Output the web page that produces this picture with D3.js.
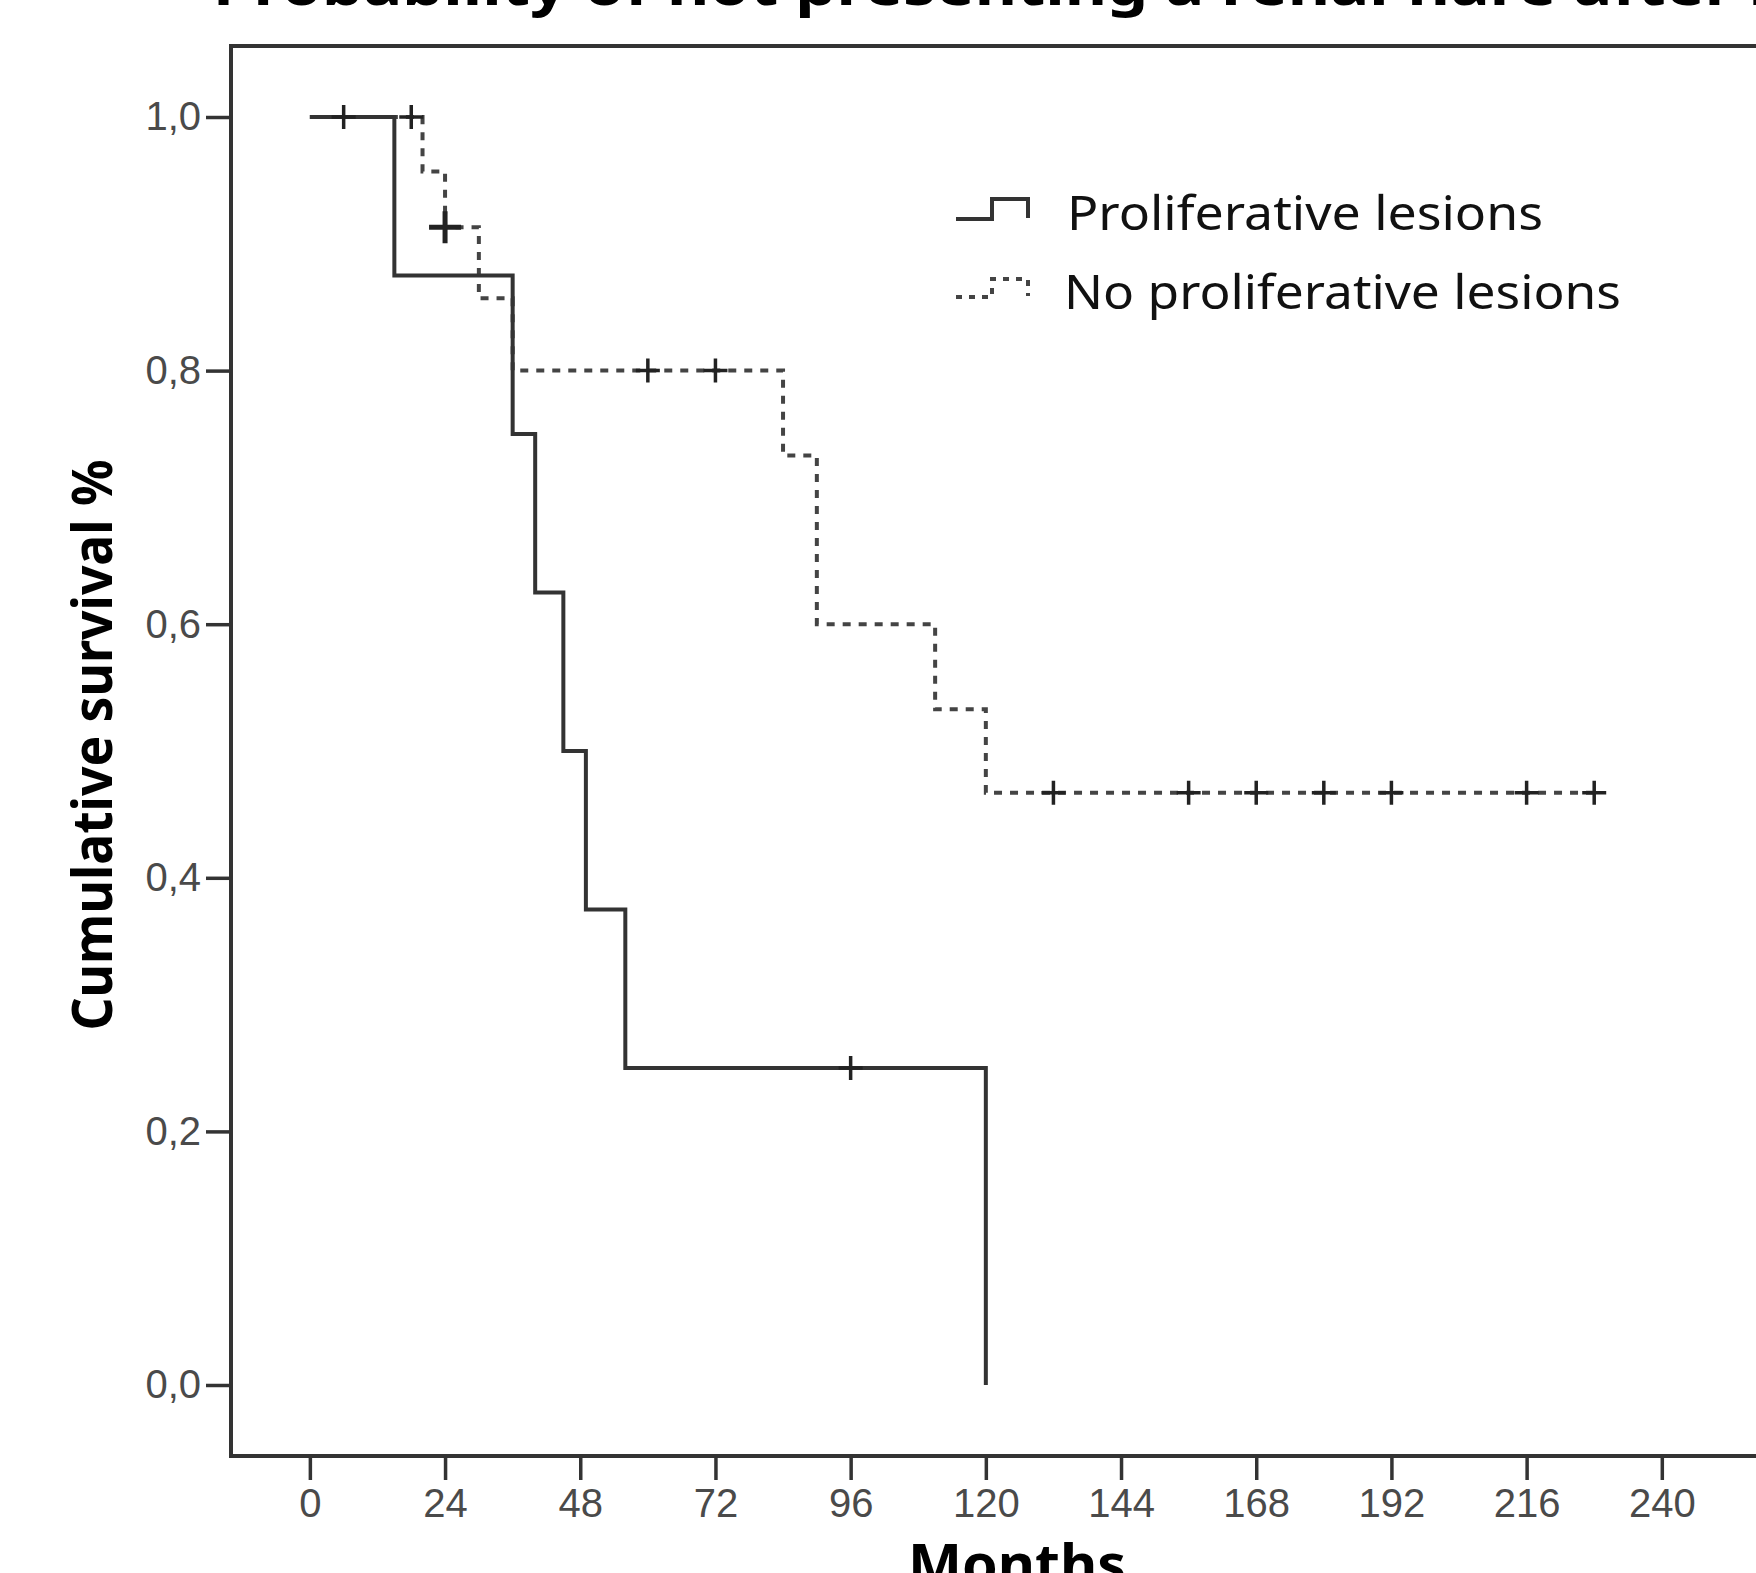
<!DOCTYPE html>
<html>
<head>
<meta charset="utf-8">
<script src="https://cdn.jsdelivr.net/npm/d3@7"></script>
<style>
  body { margin: 0; background: #fff; }
  svg { display: block; }
</style>
</head>
<body>
<script>
// tick values
const monthTicks = [0, 24, 48, 72, 96, 120, 144, 168, 192, 216, 240];
const survivalTicks = [0, 0.2, 0.4, 0.6, 0.8, 1.0];

// Proliferative lesions (solid)
const prolifTimes = [0, 15, 36, 40, 45, 49, 56, 120];
const prolifSurv  = [1, 0.875, 0.75, 0.625, 0.5, 0.375, 0.25, 0];
const prolifEnd = 120;
const prolifCensorT = [6, 96];
const prolifCensorS = [1, 0.25];

// No proliferative lesions (dotted)
const noProlifTimes = [0, 20, 24, 30, 36, 84, 90, 111, 120];
const noProlifSurv  = [1, 0.957, 0.913, 0.857, 0.8, 0.733, 0.6, 0.533, 0.467];
const noProlifEnd = 228;
const noProlifCensorT = [18, 24, 60, 72, 132, 156, 168, 180, 192, 216, 228];
const noProlifCensorS = [1, 0.913, 0.8, 0.8, 0.467, 0.467, 0.467, 0.467, 0.467, 0.467, 0.467];
const noProlifCensorN = [1, 2, 1, 1, 1, 1, 1, 1, 1, 1, 1];

const legendLabels = ["Proliferative lesions", "No proliferative lesions"];

const width = 1756, height = 1573;
const svg = d3.select("body").append("svg")
  .attr("width", width)
  .attr("height", height);

const x = d3.scaleLinear().domain([-14, 264]).range([231, 1797]);
const y = d3.scaleLinear().domain([-0.056, 1.056]).range([1456, 46]);

const lineColor = "#333";
const dotColor = "#444";

// frame
svg.append("rect")
  .attr("x", x(-14))
  .attr("y", y(1.056))
  .attr("width", x(264) - x(-14))
  .attr("height", y(-0.056) - y(1.056))
  .attr("fill", "none")
  .attr("stroke", "#333")
  .attr("stroke-width", 4);

// axes
const yAxis = svg.append("g")
  .attr("transform", `translate(${x(-14)},0)`)
  .call(d3.axisLeft(y).tickValues(survivalTicks).tickSize(25).tickPadding(5)
    .tickFormat(d => d3.format(".1f")(d).replace(".", ",")));
const xAxis = svg.append("g")
  .attr("transform", `translate(0,${y(-0.056)})`)
  .call(d3.axisBottom(x).tickValues(monthTicks).tickSize(24).tickPadding(8));

[yAxis, xAxis].forEach(g => {
  g.select(".domain").remove();
  g.selectAll(".tick line").attr("stroke", "#333").attr("stroke-width", 3.5);
  g.selectAll(".tick text")
    .attr("font-family", "'Liberation Sans', Arial, sans-serif")
    .attr("font-size", 40)
    .attr("fill", "#4a4a4a");
});
xAxis.selectAll(".tick text").attr("dy", "0.72em");

// step curves
const step = d3.line()
  .x(d => x(d[0]))
  .y(d => y(d[1]))
  .curve(d3.curveStepAfter);

const noProlifPts = noProlifTimes.map((t, i) => [t, noProlifSurv[i]]);
noProlifPts.push([noProlifEnd, noProlifSurv[noProlifSurv.length - 1]]);
const prolifPts = prolifTimes.map((t, i) => [t, prolifSurv[i]]);
if (prolifEnd > prolifTimes[prolifTimes.length - 1])
  prolifPts.push([prolifEnd, prolifSurv[prolifSurv.length - 1]]);

svg.append("path")
  .attr("d", step(noProlifPts))
  .attr("fill", "none")
  .attr("stroke", dotColor)
  .attr("stroke-width", 4)
  .attr("stroke-dasharray", "8,8");

svg.append("path")
  .attr("d", step(prolifPts))
  .attr("fill", "none")
  .attr("stroke", lineColor)
  .attr("stroke-width", 4);

// censor marks
function censor(ts, ss, ns) {
  ts.forEach((t, i) => {
    const n = ns ? ns[i] : 1;
    const h = n > 1 ? 16 : 12, w = n > 1 ? 5 : 3.5;
    const cx = x(t), cy = y(ss[i]);
    svg.append("path")
      .attr("d", `M${cx - h},${cy}H${cx + h}M${cx},${cy - h}V${cy + h}`)
      .attr("stroke", "#222")
      .attr("stroke-width", w)
      .attr("fill", "none");
  });
}
censor(noProlifCensorT, noProlifCensorS, noProlifCensorN);
censor(prolifCensorT, prolifCensorS);

// legend
const legend = svg.append("g");
legend.append("path")
  .attr("d", "M956,219H992V199H1028V218")
  .attr("fill", "none").attr("stroke", lineColor).attr("stroke-width", 4);
legend.append("path")
  .attr("d", "M956,297H992V279H1028V296")
  .attr("fill", "none").attr("stroke", dotColor).attr("stroke-width", 4)
  .attr("stroke-dasharray", "6,7");

legend.selectAll("text")
  .data(legendLabels)
  .enter().append("text")
  .attr("x", (d, i) => i === 0 ? 1067 : 1064)
  .attr("y", (d, i) => i === 0 ? 230 : 309)
  .attr("font-family", "'Noto Sans', sans-serif")
  .attr("font-size", 48)
  .attr("fill", "#111")
  .attr("textLength", (d, i) => i === 0 ? 476 : 557)
  .attr("lengthAdjust", "spacingAndGlyphs")
  .text(d => d);

// titles
svg.append("text")
  .attr("x", 213)
  .attr("y", 5)
  .attr("font-family", "'Noto Sans', sans-serif")
  .attr("font-weight", "bold")
  .attr("font-size", 56)
  .attr("fill", "#000")
  .attr("textLength", 1575)
  .attr("lengthAdjust", "spacingAndGlyphs")
  .text("Probability of not presenting a renal flare after 2");

svg.append("text")
  .attr("transform", "translate(112,745) rotate(-90)")
  .attr("text-anchor", "middle")
  .attr("font-family", "'Noto Sans', sans-serif")
  .attr("font-weight", "bold")
  .attr("font-size", 56)
  .attr("fill", "#000")
  .attr("textLength", 571)
  .attr("lengthAdjust", "spacingAndGlyphs")
  .text("Cumulative survival %");

svg.append("text")
  .attr("x", 1017)
  .attr("y", 1584)
  .attr("text-anchor", "middle")
  .attr("font-family", "'Noto Sans', sans-serif")
  .attr("font-weight", "bold")
  .attr("font-size", 56)
  .attr("fill", "#000")
  .attr("textLength", 218)
  .attr("lengthAdjust", "spacingAndGlyphs")
  .text("Months");
</script>
</body>
</html>
